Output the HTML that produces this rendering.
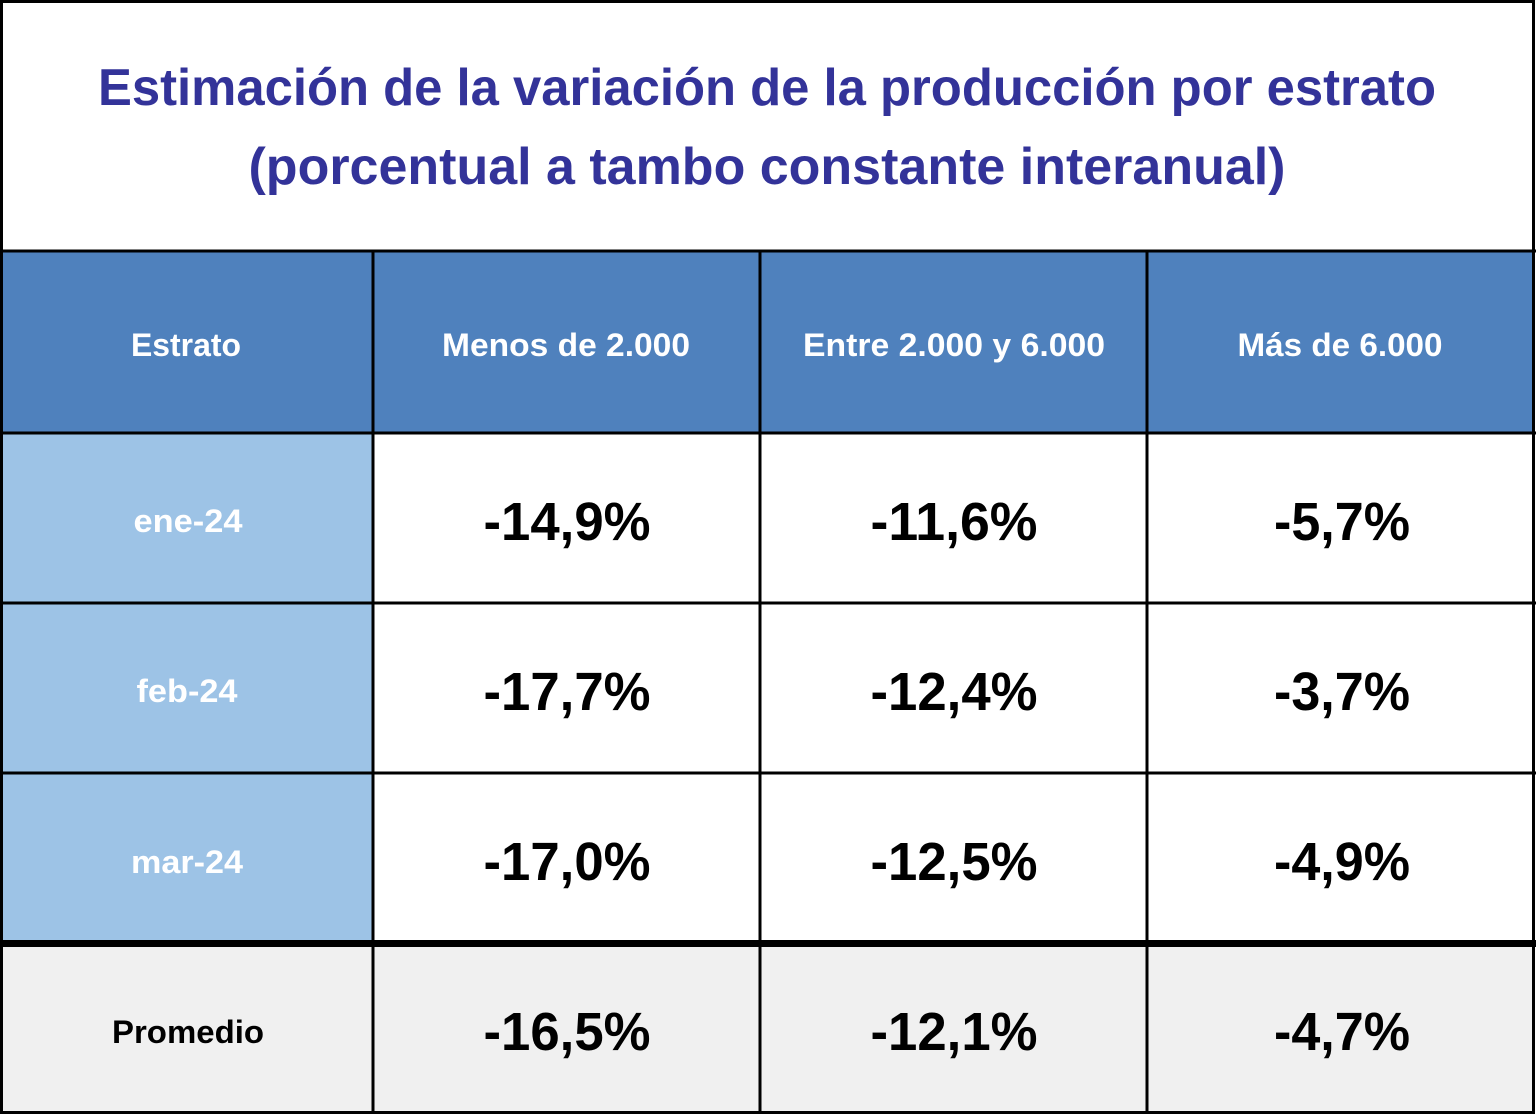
<!DOCTYPE html>
<html><head><meta charset="utf-8"><style>
html,body{margin:0;padding:0;background:#fff;}
svg{display:block;}
text{font-family:"Liberation Sans",sans-serif;font-weight:bold;}
</style></head><body>
<svg width="1536" height="1117" viewBox="0 0 1536 1117" xmlns="http://www.w3.org/2000/svg">
<rect x="0" y="0" width="1536" height="1117" fill="#fff"/>
<!-- header bg -->
<rect x="2" y="251" width="1532" height="182" fill="#4f81bd"/>
<!-- row label bg -->
<rect x="2" y="433" width="372" height="509" fill="#9dc3e6"/>
<!-- promedio bg -->
<rect x="2" y="945" width="1532" height="167" fill="#f0f0f0"/>
<!-- grid lines -->
<g stroke="#000" stroke-width="3" fill="none">
<rect x="1.5" y="1.5" width="1532" height="1111"/>
<line x1="0" y1="251" x2="1536" y2="251"/>
<line x1="0" y1="433" x2="1536" y2="433"/>
<line x1="0" y1="603" x2="1536" y2="603"/>
<line x1="0" y1="773" x2="1536" y2="773"/>
<line x1="373" y1="251" x2="373" y2="1112"/>
<line x1="760" y1="251" x2="760" y2="1112"/>
<line x1="1147" y1="251" x2="1147" y2="1112"/>
</g>
<rect x="0" y="940" width="1536" height="7" fill="#000"/>
<!-- title -->
<text x="767" y="105" font-size="52" fill="#333399" text-anchor="middle" textLength="1338" lengthAdjust="spacingAndGlyphs">Estimación de la variación de la producción por estrato</text>
<text x="767" y="184" font-size="52" fill="#333399" text-anchor="middle" textLength="1037" lengthAdjust="spacingAndGlyphs">(porcentual a tambo constante interanual)</text>
<!-- header -->
<g fill="#fff" font-size="32" text-anchor="middle">
<text x="186" y="356" textLength="110" lengthAdjust="spacingAndGlyphs">Estrato</text>
<text x="566" y="356" textLength="248" lengthAdjust="spacingAndGlyphs">Menos de 2.000</text>
<text x="954" y="356" textLength="302" lengthAdjust="spacingAndGlyphs">Entre 2.000 y 6.000</text>
<text x="1340" y="356" textLength="205" lengthAdjust="spacingAndGlyphs">Más de 6.000</text>
<text x="188" y="532" textLength="109" lengthAdjust="spacingAndGlyphs">ene-24</text>
<text x="187" y="702" textLength="101" lengthAdjust="spacingAndGlyphs">feb-24</text>
<text x="187" y="873" textLength="112" lengthAdjust="spacingAndGlyphs">mar-24</text>
</g>
<text x="188" y="1043" font-size="32" fill="#000" text-anchor="middle" textLength="152" lengthAdjust="spacingAndGlyphs">Promedio</text>
<g fill="#000" font-size="54" text-anchor="middle">
<text x="567" y="540" textLength="167" lengthAdjust="spacingAndGlyphs">-14,9%</text>
<text x="954" y="540" textLength="167" lengthAdjust="spacingAndGlyphs">-11,6%</text>
<text x="1342" y="540" textLength="136" lengthAdjust="spacingAndGlyphs">-5,7%</text>
<text x="567" y="710" textLength="167" lengthAdjust="spacingAndGlyphs">-17,7%</text>
<text x="954" y="710" textLength="167" lengthAdjust="spacingAndGlyphs">-12,4%</text>
<text x="1342" y="710" textLength="136" lengthAdjust="spacingAndGlyphs">-3,7%</text>
<text x="567" y="880" textLength="167" lengthAdjust="spacingAndGlyphs">-17,0%</text>
<text x="954" y="880" textLength="167" lengthAdjust="spacingAndGlyphs">-12,5%</text>
<text x="1342" y="880" textLength="136" lengthAdjust="spacingAndGlyphs">-4,9%</text>
<text x="567" y="1050" textLength="167" lengthAdjust="spacingAndGlyphs">-16,5%</text>
<text x="954" y="1050" textLength="167" lengthAdjust="spacingAndGlyphs">-12,1%</text>
<text x="1342" y="1050" textLength="136" lengthAdjust="spacingAndGlyphs">-4,7%</text>
</g>
</svg>
</body></html>
